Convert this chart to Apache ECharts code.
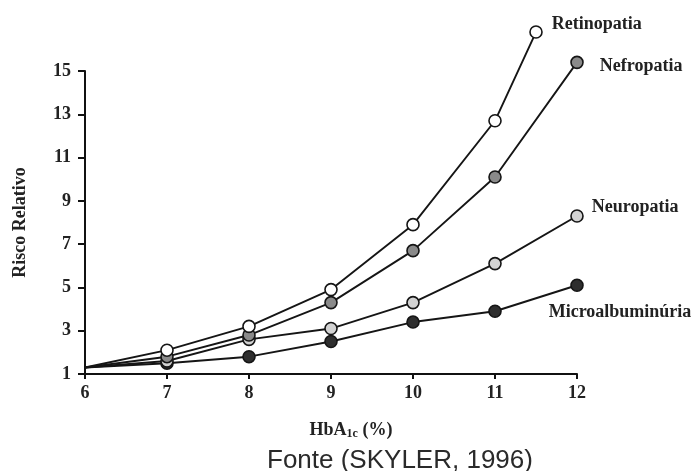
<!DOCTYPE html>
<html>
<head>
<meta charset="utf-8">
<script src="https://cdn.jsdelivr.net/npm/echarts@6/dist/echarts.min.js"></script>
<style>
  html, body { margin: 0; padding: 0; background: #fff; }
  #chart { width: 696px; height: 471px; }
</style>
</head>
<body>
<div id="chart"></div>
<script>
// HbA1c (%) values where each complication was evaluated
const hba1c = [6, 7, 8, 9, 10, 11, 12];
const hba1cRetino = [6, 7, 8, 9, 10, 11, 11.5];

// Relative risk per complication
const retinopatia = [1.3, 2.1, 3.2, 4.9, 7.9, 12.7, 16.8];
const nefropatia = [1.3, 1.8, 2.8, 4.3, 6.7, 10.1, 15.4];
const neuropatia = [1.3, 1.6, 2.6, 3.1, 4.3, 6.1, 8.3];
const microalbuminuria = [1.3, 1.5, 1.8, 2.5, 3.4, 3.9, 5.1];

const xTicks = [6, 7, 8, 9, 10, 11, 12];
const yTicks = [1, 3, 5, 7, 9, 11, 13, 15];

const serif = 'Liberation Serif';
const labelStyle = {
  fontFamily: serif, fontWeight: 'bold', fontSize: 18, color: '#222'
};

function buildSeries(name, xs, ys, fill, labelOpts) {
  const last = ys.length - 1;
  const data = ys.map((y, i) => {
    const item = { value: [xs[i], y] };
    if (i === 0) item.symbol = 'none';
    if (i === last) {
      item.label = Object.assign({ show: true, formatter: name }, labelStyle, labelOpts);
    }
    return item;
  });
  return {
    name: name,
    type: 'line',
    data: data,
    clip: false,
    symbol: 'circle',
    symbolSize: 12,
    showAllSymbol: true,
    lineStyle: { color: '#151515', width: 1.9 },
    itemStyle: { color: fill, borderColor: '#151515', borderWidth: 1.6 },
    emphasis: { disabled: true },
    label: { show: false },
    z: 3
  };
}

const chart = echarts.init(document.getElementById('chart'), null, { renderer: 'canvas' });

chart.setOption({
  animation: false,
  backgroundColor: '#fff',
  title: {
    text: 'Fonte (SKYLER, 1996)',
    left: 262,
    top: 443,
    textStyle: {
      fontFamily: 'Liberation Sans', fontWeight: 'normal', fontSize: 26, color: '#2a2a2a'
    }
  },
  grid: { left: 85, right: 119, top: 71, bottom: 97, containLabel: false },
  xAxis: {
    type: 'value',
    min: xTicks[0],
    max: xTicks[xTicks.length - 1],
    interval: 1,
    name: '{b|HbA}{s|1c}{b| (%)}',
    nameLocation: 'middle',
    nameGap: 46,
    nameTextStyle: {
      padding: [0, 0, 0, 40],
      rich: {
        b: { fontFamily: serif, fontWeight: 'bold', fontSize: 18, color: '#222' },
        s: { fontFamily: serif, fontWeight: 'bold', fontSize: 12, color: '#222', verticalAlign: 'bottom', padding: [8, 0, 0, 0] }
      }
    },
    axisLine: { show: true, lineStyle: { color: '#111', width: 2 } },
    axisTick: { show: true, length: 5, lineStyle: { color: '#111', width: 2 } },
    axisLabel: {
      margin: 10,
      fontFamily: serif, fontWeight: 'bold', fontSize: 18, color: '#222',
      formatter: v => String(v)
    },
    splitLine: { show: false }
  },
  yAxis: {
    type: 'value',
    min: yTicks[0],
    max: yTicks[yTicks.length - 1],
    interval: 2,
    name: 'Risco Relativo',
    nameLocation: 'middle',
    nameGap: 56,
    nameRotate: 90,
    nameTextStyle: { fontFamily: serif, fontWeight: 'bold', fontSize: 18, color: '#222' },
    axisLine: { show: true, lineStyle: { color: '#111', width: 2 } },
    axisTick: { show: true, length: 7, lineStyle: { color: '#111', width: 2 } },
    axisLabel: {
      margin: 14,
      fontFamily: serif, fontWeight: 'bold', fontSize: 18, color: '#222'
    },
    splitLine: { show: false }
  },
  series: [
    buildSeries('Microalbuminúria', hba1c, microalbuminuria, '#2e2e2e',
      { position: 'bottom', distance: 4, offset: [43, 7] }),
    buildSeries('Neuropatia', hba1c, neuropatia, '#d2d2d2',
      { position: 'right', distance: 8, offset: [0, -9] }),
    buildSeries('Nefropatia', hba1c, nefropatia, '#8a8a8a',
      { position: 'right', distance: 16, offset: [0, 4] }),
    buildSeries('Retinopatia', hba1cRetino, retinopatia, '#ffffff',
      { position: 'right', distance: 9, offset: [0, -8] })
  ]
});
</script>
</body>
</html>
